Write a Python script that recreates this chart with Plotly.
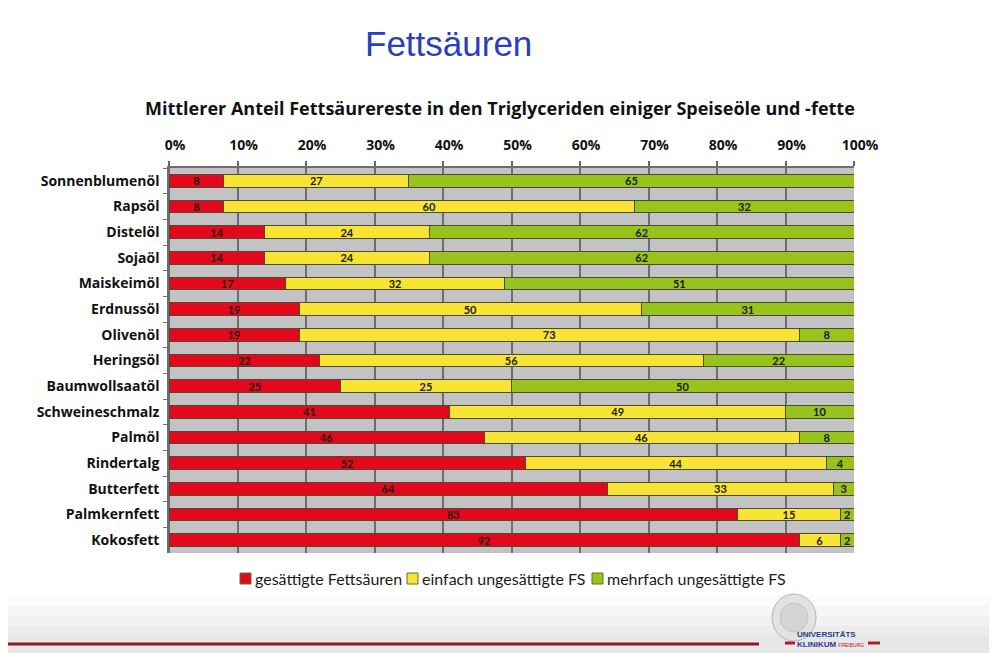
import plotly.graph_objects as go

categories = ["Sonnenblumenöl", "Rapsöl", "Distelöl", "Sojaöl", "Maiskeimöl", "Erdnussöl",
              "Olivenöl", "Heringsöl", "Baumwollsaatöl", "Schweineschmalz", "Palmöl",
              "Rindertalg", "Butterfett", "Palmkernfett", "Kokosfett"]
gesaettigt = [8, 8, 14, 14, 17, 19, 19, 22, 25, 41, 46, 52, 64, 83, 92]
einfach = [27, 60, 24, 24, 32, 50, 73, 56, 25, 49, 46, 44, 33, 15, 6]
mehrfach = [65, 32, 62, 62, 51, 31, 8, 22, 50, 10, 8, 4, 3, 2, 2]
series_names = ["gesättigte Fettsäuren", "einfach ungesättigte FS", "mehrfach ungesättigte FS"]
x_ticks = [0, 10, 20, 30, 40, 50, 60, 70, 80, 90, 100]
x_ticklabels = [f"{v}%" for v in x_ticks]

colors = ["#e3081b", "#f7e434", "#98c21c"]
OUTLINE = "#4b4a2e"

# page body has an 8px margin: figure is drawn 8px right/down of the window origin
W, H = 989, 645


def px(X):   # window pixel x -> paper x
    return (X - 169) / 685


def py(Y):   # window pixel y -> paper y
    return (553 - Y) / 385


fig = go.Figure()
for name, vals, col in zip(series_names, [gesaettigt, einfach, mehrfach], colors):
    fig.add_trace(go.Bar(
        y=categories, x=vals, name=name, orientation="h",
        marker=dict(color=col, line=dict(color=OUTLINE, width=1)),
        text=vals, textposition="inside", insidetextanchor="middle", textangle=0,
        textfont=dict(family="Lato", size=11, color="#1a1a1a", weight=700),
        showlegend=False,
    ))

fig.update_layout(
    width=W, height=H,
    barmode="stack", bargap=0.5,
    paper_bgcolor="white", plot_bgcolor="#c3c3c6",
    margin=dict(l=161, r=143, t=160, b=100, autoexpand=False),
    uniformtext=dict(minsize=11, mode="show"),
    showlegend=False,
    font=dict(family="Lato"),
)
fig.update_xaxes(
    range=[0, 100], side="top", tickvals=x_ticks, ticktext=x_ticklabels,
    ticks="outside", ticklen=5, tickcolor="#666", tickwidth=1.5,
    ticklabelstandoff=5, ticklabelshift=6,
    tickfont=dict(family="Open Sans", size=14, color="#111", weight=700),
    showgrid=True, gridcolor="#6e6e6e", gridwidth=1.5,
    zeroline=True, zerolinecolor="#6e6e6e", zerolinewidth=1.5,
    showline=True, linecolor="#6e6e6e", linewidth=2, mirror=False,
    fixedrange=True,
)
fig.update_yaxes(
    autorange="reversed", ticks="outside", tickson="boundaries", ticklen=4,
    tickcolor="#777", tickwidth=1, ticklabelstandoff=5,
    tickfont=dict(family="Open Sans", size=14, color="#111", weight=700),
    showline=True, linecolor="#6e6e6e", linewidth=1.5, showgrid=False,
)

# Titles
fig.add_annotation(text="Fettsäuren", xref="paper", yref="paper", x=px(448), y=py(44),
                   xanchor="center", yanchor="middle", showarrow=False,
                   font=dict(family="Liberation Sans", size=35, color="#2a3ec0"))
fig.add_annotation(text="<b>Mittlerer Anteil Fettsäurereste in den Triglyceriden einiger Speiseöle und -fette</b>",
                   xref="paper", yref="paper", x=px(500), y=py(108),
                   xanchor="center", yanchor="middle",
                   showarrow=False, font=dict(family="Open Sans", size=18, color="#111"))

# Custom compact legend
legend_x = [240, 407, 592]
for name, col, lx in zip(series_names, colors, legend_x):
    fig.add_shape(type="rect", xref="paper", yref="paper", x0=px(lx), x1=px(lx + 11),
                  y0=py(584), y1=py(573), fillcolor=col, line=dict(color="#6a6a3a", width=1))
    fig.add_annotation(text=name, xref="paper", yref="paper", x=px(lx + 13), y=py(578),
                       xanchor="left", yanchor="middle", showarrow=False,
                       font=dict(family="Lato", size=16, color="#1a1a1a"))

# Bottom decoration (slide footer)
for y_top, c in [(596, "#fbfbfb"), (606, "#f6f6f6"), (616, "#f1f1f1"), (626, "#ececec"), (636, "#e7e7e7")]:
    fig.add_shape(type="rect", xref="paper", yref="paper", x0=px(0), x1=px(997),
                  y0=py(660), y1=py(y_top), fillcolor=c, line_width=0, layer="below")
fig.add_shape(type="line", xref="paper", yref="paper", x0=px(0), x1=px(759),
              y0=py(644), y1=py(644), line=dict(color="#8e1a1e", width=3))
fig.add_shape(type="circle", xref="paper", yref="paper", x0=px(772), x1=px(816),
              y0=py(641), y1=py(594), fillcolor="#e2e2e2", line=dict(color="#b4b4b4", width=1))
fig.add_shape(type="circle", xref="paper", yref="paper", x0=px(780), x1=px(808),
              y0=py(632), y1=py(603), fillcolor="#d4d4d4", line=dict(color="#c4c4c4", width=1))
fig.add_shape(type="line", xref="paper", yref="paper", x0=px(785), x1=px(795),
              y0=py(643), y1=py(643), line=dict(color="#b01c2a", width=3))
fig.add_shape(type="line", xref="paper", yref="paper", x0=px(868), x1=px(880),
              y0=py(643), y1=py(643), line=dict(color="#b01c2a", width=3))
fig.add_annotation(
    text="<b>UNIVERSITÄTS</b><br><b>KLINIKUM</b> <span style='color:#b01c2a;font-size:5px'>FREIBURG</span>",
    xref="paper", yref="paper", x=px(796), y=py(639), xanchor="left", yanchor="middle",
    align="left", showarrow=False, borderpad=0,
    font=dict(family="Liberation Sans", size=8, color="#2a3a8c"))

fig.write_html("out.html")
